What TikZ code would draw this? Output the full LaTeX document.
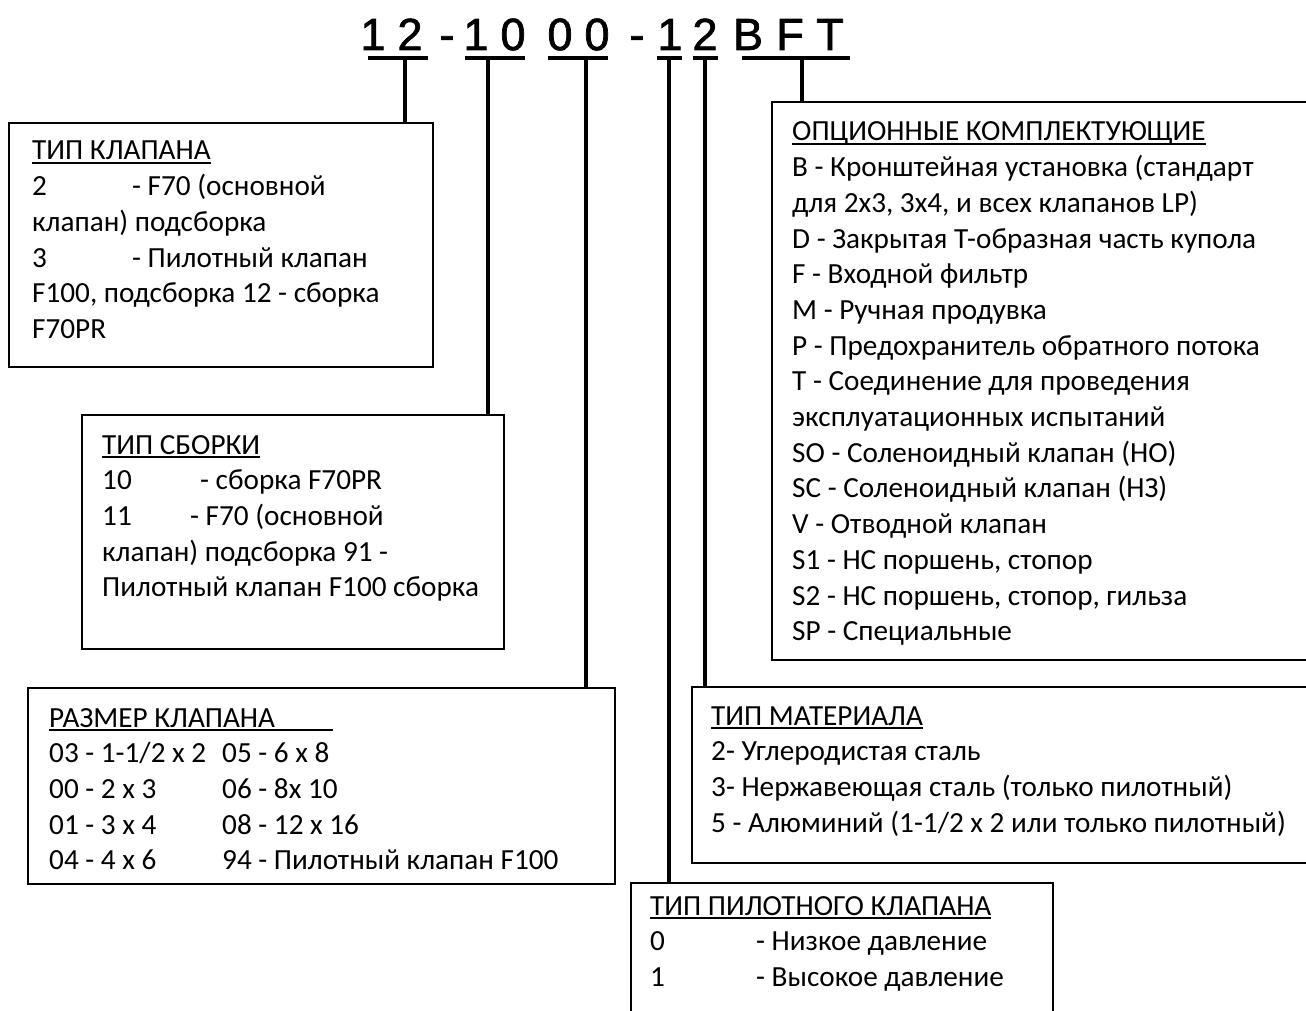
\documentclass[tikz,border=0pt]{standalone}
\usepackage{fontspec}
\setmainfont{Carlito}
\newfontfamily\codefont[FakeBold=1.6]{Liberation Sans}
\usetikzlibrary{positioning}

% underlined heading of a box
\newcommand\boxtitle[1]{\setbox0\hbox{#1}\rlap{\rule[-4pt]{\wd0}{1.8pt}}\box0}

\tikzset{
  frame/.style={draw, rectangle, line width=1.8pt, inner sep=0pt, anchor=north west},
  boxtext/.style={inner sep=0pt, font=\fontsize{29.2}{35.7}\selectfont},
  codechar/.style={anchor=base, inner sep=0pt, font=\codefont\fontsize{45}{50}\selectfont},
  bar/.style={fill=black, inner sep=0pt, minimum height=4.5pt},
  stem/.style={line width=4pt},
}

\begin{document}
\begin{tikzpicture}[x=1pt, y=-1pt]
    \useasboundingbox (0,0) rectangle (1306,1011);
    \clip (0,0) rectangle (1306,1011);

    % code line
    \foreach \ch/\x [count=\i] in {1/373, 2/410, -/447, 1/476, 0/513, 0/560, 0/597, -/637, 1/670, 2/705, B/748, F/790, T/830}
        \node[codechar] (ch\i) at (\x,50) {\ch};

    \node[bar, minimum width=60pt] (uKlap) at (398,58) {};
    \node[bar, minimum width=60pt] (uSbor) at (495,58) {};
    \node[bar, minimum width=60pt] (uRazm) at (578,58) {};
    \node[bar, minimum width=25pt] (uPilot) at (669.5,58) {};
    \node[bar, minimum width=25pt] (uMat) at (705,58) {};
    \node[bar, minimum width=108pt] (uOpt) at (796,58) {};

    \coordinate (sKlap) at (405,58);
    \coordinate (sSbor) at (488,58);
    \coordinate (sRazm) at (586,58);
    \coordinate (sPilot) at (669,58);
    \coordinate (sMat) at (705,58);
    \coordinate (sOpt) at (802,58);

    % boxes
    \node[frame, minimum width=424pt, minimum height=244pt] (klapan) at (8,122) {};
    \node[frame, minimum width=422pt, minimum height=234pt] (sborka) at (81,414) {};
    \node[frame, minimum width=587pt, minimum height=196pt] (razmer) at (27,687) {};
    \node[frame, minimum width=640pt, minimum height=176pt] (material) at (691,686) {};
    \node[frame, minimum width=422pt, minimum height=160pt] (pilot) at (630,882) {};
    \node[frame, minimum width=560pt, minimum height=558pt] (options) at (771,101) {};

    \node[boxtext, below right=38pt and 24pt of klapan.north west, anchor=base west] (klapanTxt) {%
        \begin{tabular}[t]{@{}l@{}}
        \boxtitle{ТИП КЛАПАНА}\\
        \makebox[100pt][l]{2}- F70 (основной\\
        клапан) подсборка\\
        \makebox[100pt][l]{3}- Пилотный клапан\\
        F100, подсборка 12 - сборка\\
        F70PR
        \end{tabular}};
    \node[boxtext, below right=40pt and 21pt of sborka.north west, anchor=base west] (sborkaTxt) {%
        \begin{tabular}[t]{@{}l@{}}
        \boxtitle{ТИП СБОРКИ}\\
        \makebox[98pt][l]{10}- сборка F70PR\\
        \makebox[88pt][l]{11}- F70 (основной\\
        клапан) подсборка 91 -\\
        Пилотный клапан F100 сборка
        \end{tabular}};
    \node[boxtext, below right=40pt and 22pt of razmer.north west, anchor=base west] (razmerTxt) {%
        \begin{tabular}[t]{@{}l@{}}
        \boxtitle{РАЗМЕР КЛАПАНА\hspace{58pt}}\\
        \makebox[173pt][l]{03 - 1-1/2 x 2}05 - 6 x 8\\
        \makebox[173pt][l]{00 - 2 x 3}06 - 8x 10\\
        \makebox[173pt][l]{01 - 3 x 4}08 - 12 x 16\\
        \makebox[173pt][l]{04 - 4 x 6}94 - Пилотный клапан F100
        \end{tabular}};
    \node[boxtext, below right=39pt and 20pt of material.north west, anchor=base west] (materialTxt) {%
        \begin{tabular}[t]{@{}l@{}}
        \boxtitle{ТИП МАТЕРИАЛА}\\
        2- Углеродистая сталь\\
        3- Нержавеющая сталь (только пилотный)\\
        5 - Алюминий (1-1/2 x 2 или только пилотный)
        \end{tabular}};
    \node[boxtext, below right=33pt and 20pt of pilot.north west, anchor=base west] (pilotTxt) {%
        \begin{tabular}[t]{@{}l@{}}
        \boxtitle{ТИП ПИЛОТНОГО КЛАПАНА}\\
        \makebox[106pt][l]{0}- Низкое давление\\
        \makebox[106pt][l]{1}- Высокое давление
        \end{tabular}};
    \node[boxtext, below right=40pt and 21pt of options.north west, anchor=base west] (optionsTxt) {%
        \begin{tabular}[t]{@{}l@{}}
        \boxtitle{ОПЦИОННЫЕ КОМПЛЕКТУЮЩИЕ}\\
        B - Кронштейная установка (стандарт\\
        для 2x3, 3x4, и всех клапанов LP)\\
        D - Закрытая Т-образная часть купола\\
        F - Входной фильтр\\
        M - Ручная продувка\\
        P - Предохранитель обратного потока\\
        T - Соединение для проведения\\
        эксплуатационных испытаний\\
        SO - Соленоидный клапан (НО)\\
        SC - Соленоидный клапан (НЗ)\\
        V - Отводной клапан\\
        S1 - НС поршень, стопор\\
        S2 - НС поршень, стопор, гильза\\
        SP - Специальные
        \end{tabular}};

    % stems from code to boxes
    \draw[stem] (uKlap.center -| sKlap) -- (sKlap |- klapan.north);
    \draw[stem] (uSbor.center -| sSbor) -- (sSbor |- sborka.north);
    \draw[stem] (uRazm.center -| sRazm) -- (sRazm |- razmer.north);
    \draw[stem] (uPilot.center -| sPilot) -- (sPilot |- pilot.north);
    \draw[stem] (uMat.center -| sMat) -- (sMat |- material.north);
    \draw[stem] (uOpt.center -| sOpt) -- (sOpt |- options.north);
\end{tikzpicture}
\end{document}
